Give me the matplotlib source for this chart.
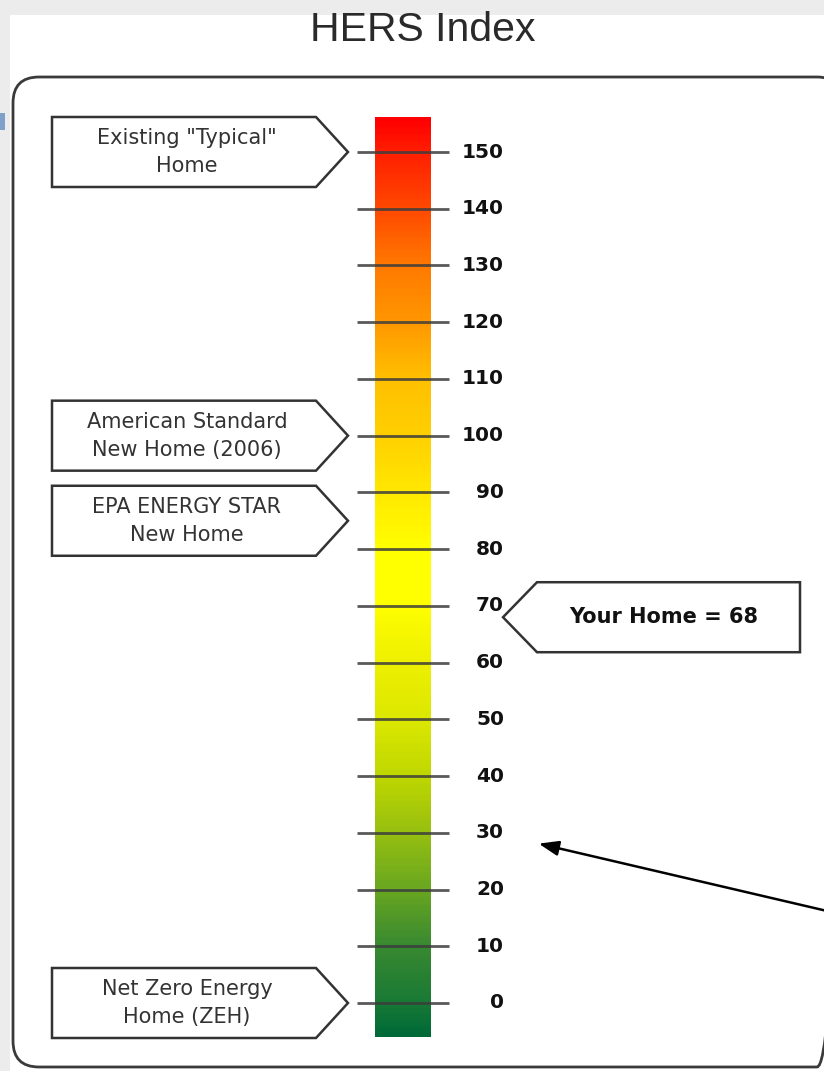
import matplotlib.pyplot as plt
import numpy as np
from matplotlib.colors import LinearSegmentedColormap
from matplotlib.patches import FancyBboxPatch, Polygon, Rectangle

# HERS scale
tick_values = [0, 10, 20, 30, 40, 50, 60, 70, 80, 90, 100, 110, 120, 130, 140, 150]
bar_bottom, bar_top = -6, 156

# gradient stops (value, colour)
stop_values = [-6, 0, 10, 20, 30, 40, 50, 60, 70, 80, 90, 100, 110, 120, 130, 140, 150, 156]
stop_colors = ['#006a38', '#1a7a35', '#3a8a30', '#6aa820', '#98c010', '#c0d800', '#dce800',
               '#eef000', '#ffff00', '#ffff00', '#ffe800', '#ffd000', '#ffc000', '#ff9800',
               '#ff7a00', '#ff4a00', '#ff2000', '#ff0000']

# reference homes on the left
ref_labels = ['Existing "Typical"\nHome', 'American Standard\nNew Home (2006)',
              'EPA ENERGY STAR\nNew Home', 'Net Zero Energy\nHome (ZEH)']
ref_values = [150, 100, 85, 0]

your_home = 68

W, H = 824, 1071
fig = plt.figure(figsize=(W / 100, H / 100), dpi=100)
fig.patch.set_facecolor('#ececec')

# background layer in pixel coordinates
bg = fig.add_axes([0, 0, 1, 1])
bg.set_xlim(0, W)
bg.set_ylim(H, 0)
bg.axis('off')
bg.add_patch(Rectangle((10, 15), W - 10, H - 15, facecolor='white', edgecolor='none'))
bg.add_patch(Rectangle((0, 113), 5, 17, facecolor='#7fa0c8', edgecolor='none'))
bg.add_patch(FancyBboxPatch((13, 77), 830, 990, boxstyle='round,pad=0,rounding_size=26',
                            facecolor='none', edgecolor='#3a3a3a', linewidth=2))
bg.text(423, 30, 'HERS Index', ha='center', va='center', fontsize=29.5,
        family='Liberation Sans', color='#2a2a2a')

# main layer: x in pixels, y in HERS units (0 -> 1003 px, 150 -> 152 px)
ppu = (1003 - 152) / 150
ax = fig.add_axes([0, 0, 1, 1])
ax.patch.set_alpha(0)
ax.set_xlim(0, W)
ax.set_ylim(-(H - 1003) / ppu, 1003 / ppu)
ax.axis('off')

cmap = LinearSegmentedColormap.from_list(
    'hers', [((v - bar_bottom) / (bar_top - bar_bottom), c) for v, c in zip(stop_values, stop_colors)])
grad = np.linspace(0, 1, 400).reshape(-1, 1)
ax.imshow(grad, cmap=cmap, origin='lower', aspect='auto',
          extent=[375, 431, bar_bottom, bar_top], zorder=1)

ax.hlines(tick_values, 357, 449, color='#3c3c3c', linewidth=2, alpha=0.85, zorder=2)
for v in tick_values:
    ax.text(504, v, str(v), ha='right', va='center', fontsize=14.5, fontweight='bold',
            family='DejaVu Sans', color='#111111')

half = 35 / ppu
for label, v in zip(ref_labels, ref_values):
    pts = [(52, v + half), (316, v + half), (348, v), (316, v - half), (52, v - half)]
    ax.add_patch(Polygon(pts, closed=True, facecolor='white', edgecolor='#333333',
                         linewidth=1.8, zorder=3))
    ax.text(187, v, label, ha='center', va='center', fontsize=15, linespacing=1.5,
            family='DejaVu Sans', color='#333333', zorder=4)

# your home callout
pts = [(503, your_home), (537, your_home + half), (800, your_home + half),
       (800, your_home - half), (537, your_home - half)]
ax.add_patch(Polygon(pts, closed=True, facecolor='white', edgecolor='#333333',
                     linewidth=1.8, zorder=3))
ax.text(664, your_home, f'Your Home = {your_home}', ha='center', va='center', fontsize=15,
        fontweight='bold', family='DejaVu Sans', color='#111111', zorder=4)

# pointer to the 30 mark
ax.annotate('', xy=(536, (1003 - 843) / ppu), xytext=(840, (1003 - 914) / ppu),
            arrowprops=dict(arrowstyle='-|>,head_length=1.2,head_width=0.45',
                            color='black', linewidth=1.8))

fig.savefig('out.png', dpi=100)
